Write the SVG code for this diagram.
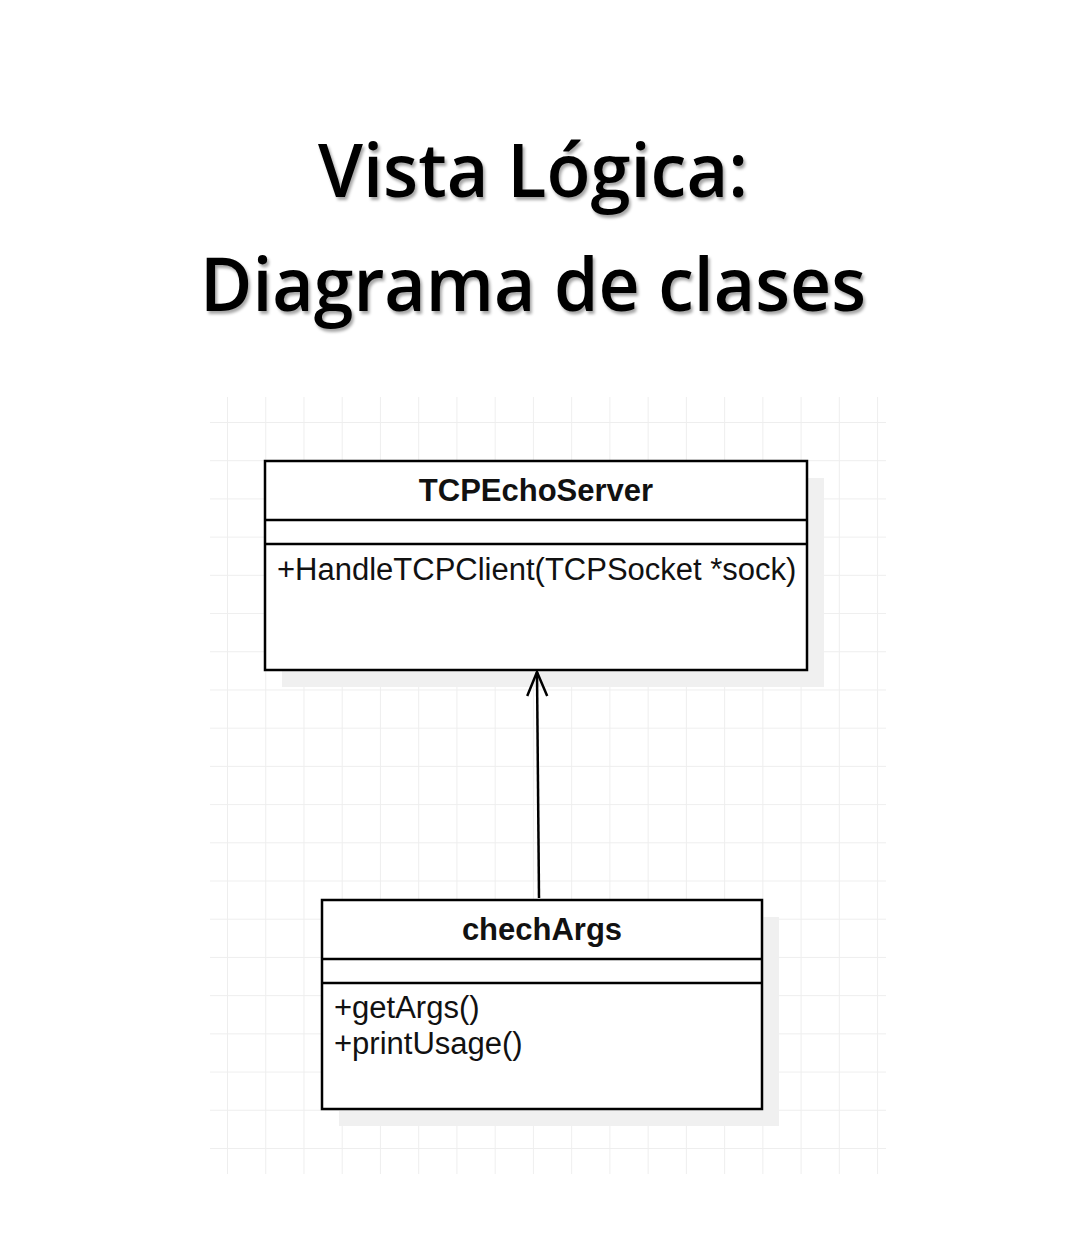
<svg xmlns="http://www.w3.org/2000/svg" width="1086" height="1250" viewBox="0 0 1086 1250">
<defs>
<pattern id="grid" x="227" y="422" width="38.24" height="38.21" patternUnits="userSpaceOnUse">
<path d="M0 0 V38.21 M0 0 H38.24" fill="none" stroke="#eeeeee" stroke-width="2"/>
</pattern>
<filter id="tshadow" x="-5%" y="-20%" width="110%" height="140%">
<feDropShadow dx="2" dy="3" stdDeviation="1.5" flood-color="#000" flood-opacity="0.35"/>
</filter>
<marker id="open" viewBox="0 0 30 26" refX="27" refY="13" markerWidth="30" markerHeight="26" markerUnits="userSpaceOnUse" orient="auto">
<path d="M3 3 L27 13 L3 23" fill="none" stroke="#000" stroke-width="2.5"/>
</marker>
</defs>
<style>
.title{font-family:"Open Sans","Noto Sans",sans-serif;font-size:74px;font-weight:600;fill:#000;}
.box{fill:#fff;stroke:#000;stroke-width:2.5;}
.shadow{fill:#f0f0f0;}
.sep{stroke:#000;stroke-width:2.5;}
.cls{font-family:"Liberation Sans",Arial,sans-serif;font-size:31px;font-weight:bold;fill:#111;}
.mem{font-family:"Liberation Sans",Arial,sans-serif;font-size:31px;fill:#111;}
</style>
<rect width="1086" height="1250" fill="#fff"/>
<rect x="210" y="397" width="676" height="777" fill="url(#grid)"/>
<g id="title" filter="url(#tshadow)">
<text class="title" x="533" y="197" text-anchor="middle" textLength="430" lengthAdjust="spacingAndGlyphs">Vista Lógica:</text>
<text class="title" x="533" y="311" text-anchor="middle" textLength="666" lengthAdjust="spacingAndGlyphs">Diagrama de clases</text>
</g>
<g id="TCPEchoServer">
<rect class="shadow" x="282" y="478" width="542" height="209"/>
<rect class="box" x="265" y="461" width="542" height="209"/>
<line class="sep" x1="265" y1="520" x2="807" y2="520"/>
<line class="sep" x1="265" y1="544" x2="807" y2="544"/>
<text class="cls" x="536" y="501" text-anchor="middle">TCPEchoServer</text>
<text class="mem" x="277" y="580">+HandleTCPClient(TCPSocket *sock)</text>
</g>
<g id="chechArgs">
<rect class="shadow" x="339" y="917" width="440" height="209"/>
<rect class="box" x="322" y="900" width="440" height="209"/>
<line class="sep" x1="322" y1="959" x2="762" y2="959"/>
<line class="sep" x1="322" y1="983" x2="762" y2="983"/>
<text class="cls" x="542" y="940" text-anchor="middle">chechArgs</text>
<text class="mem" x="334" y="1018">+getArgs()</text>
<text class="mem" x="334" y="1054">+printUsage()</text>
</g>
<g id="connectors">
<line x1="539" y1="898" x2="537" y2="672" stroke="#000" stroke-width="2.5" marker-end="url(#open)"/>
</g>
</svg>
